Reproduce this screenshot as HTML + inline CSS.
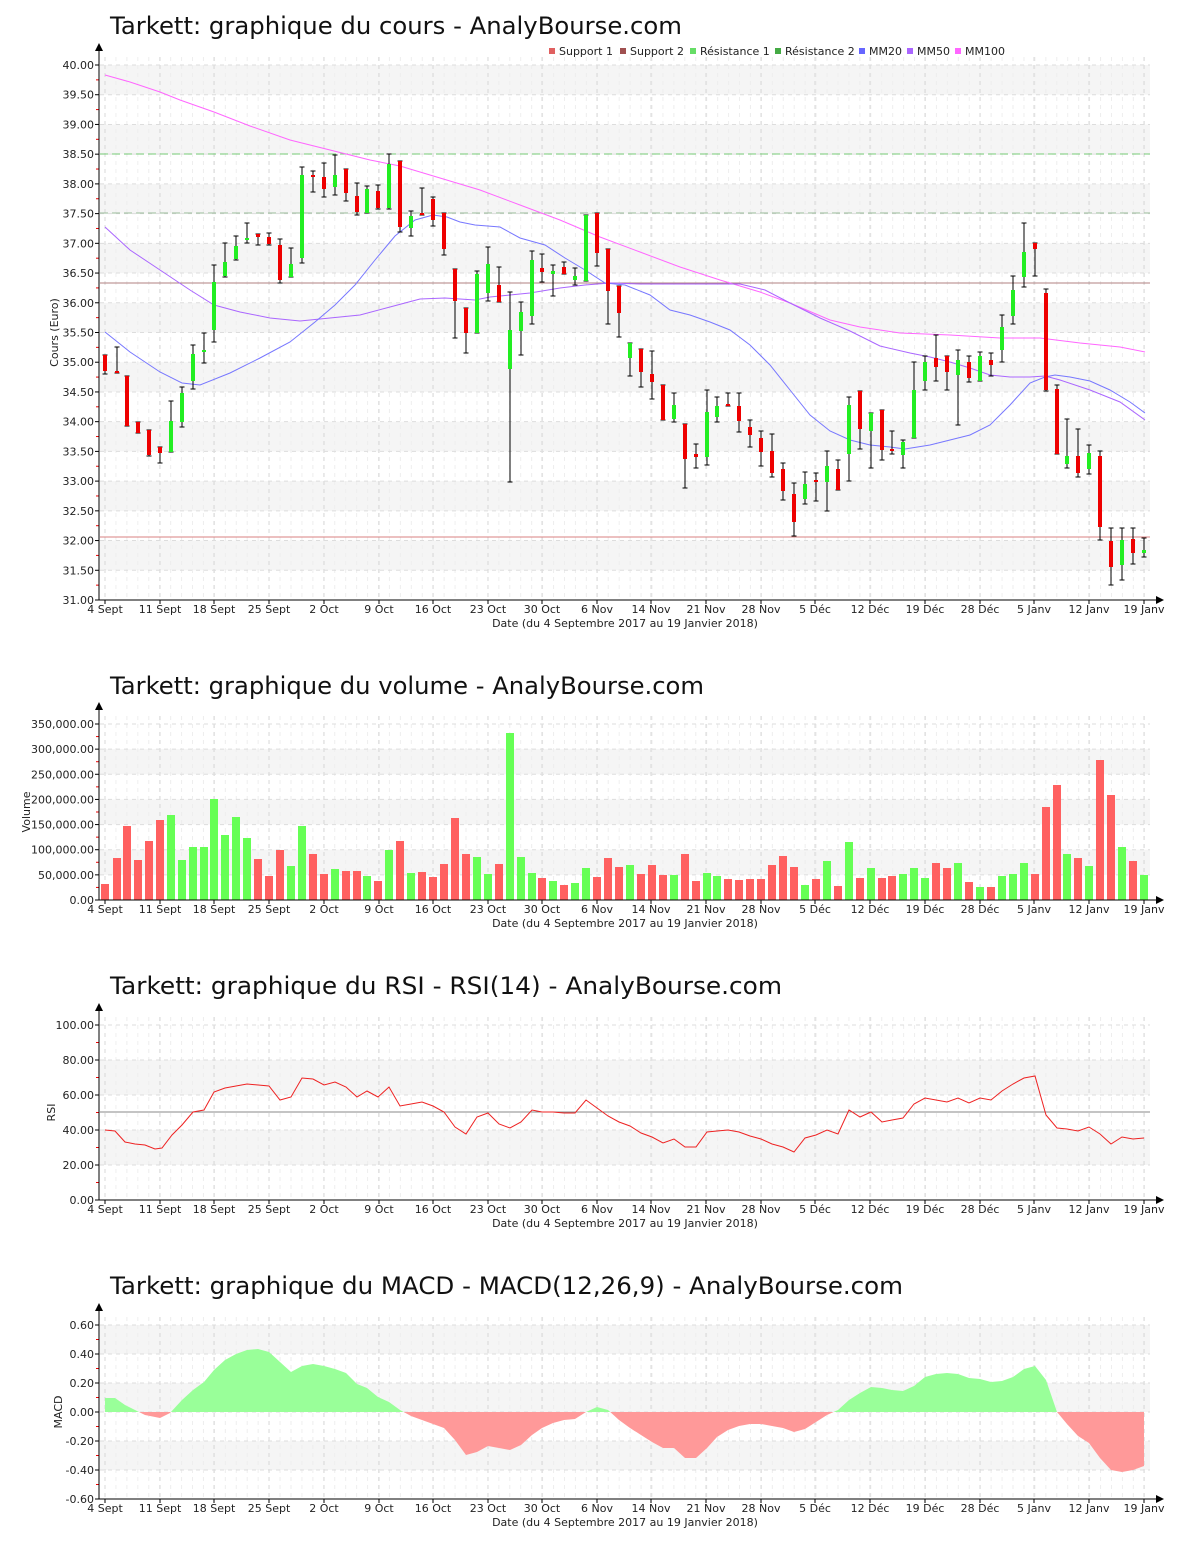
<!DOCTYPE html>
<html><head><meta charset="utf-8">
<style>
html,body{margin:0;padding:0;background:#fff;}
svg{display:block;font-family:"DejaVu Sans","Liberation Sans",sans-serif;}
</style></head>
<body>
<svg id="s" width="1200" height="1550" xmlns="http://www.w3.org/2000/svg">
<text x="110" y="34" font-size="24" fill="#111" textLength="572" lengthAdjust="spacingAndGlyphs">Tarkett: graphique du cours - AnalyBourse.com</text>
<text x="110" y="694" font-size="24" fill="#111" textLength="594" lengthAdjust="spacingAndGlyphs">Tarkett: graphique du volume - AnalyBourse.com</text>
<text x="110" y="994" font-size="24" fill="#111" textLength="672" lengthAdjust="spacingAndGlyphs">Tarkett: graphique du RSI - RSI(14) - AnalyBourse.com</text>
<text x="110" y="1294" font-size="24" fill="#111" textLength="793" lengthAdjust="spacingAndGlyphs">Tarkett: graphique du MACD - MACD(12,26,9) - AnalyBourse.com</text>
<g id="g"></g>
</svg>
<script>
var NS="http://www.w3.org/2000/svg",G=document.getElementById('g');
function el(t,a,txt){var e=document.createElementNS(NS,t);for(var k in a)e.setAttribute(k,a[k]);if(txt!==undefined)e.textContent=txt;G.appendChild(e);return e;}
var DX=[105,160,214,269,324,379,433,488,542,597,651,706,761,815,870,925,980,1034,1089,1144];
var DL=["4 Sept","11 Sept","18 Sept","25 Sept","2 Oct","9 Oct","16 Oct","23 Oct","30 Oct","6 Nov","14 Nov","21 Nov","28 Nov","5 Déc","12 Déc","19 Déc","28 Déc","5 Janv","12 Janv","19 Janv"];
function panel(o){
 var L=100,R=1150,sc=(o.bottom-o.top)/(o.vmax-o.vmin);
 var Y=function(v){return o.bottom-(v-o.vmin)*sc;};
 var n=Math.round((o.vmax-o.vmin)/o.step);
 for(var i=0;i<n;i++){ if(i%2==1){el('rect',{x:L,y:Y(o.vmin+(i+1)*o.step),width:R-L,height:o.step*sc,fill:'#f5f5f5'});} }
 // minor vertical grid
 for(var d=0;d<96;d++){var x=105+d*10.94;el('line',{x1:x,y1:o.top-8,x2:x,y2:o.bottom,stroke:'#eeeeee','stroke-dasharray':'4,4','stroke-width':1});}
 DX.forEach(function(x){el('line',{x1:x,y1:o.top-8,x2:x,y2:o.bottom,stroke:'#d8d8d8','stroke-dasharray':'4,4','stroke-width':1});});
 for(var i=0;i<=n;i++){var y=Y(o.vmin+i*o.step);
  el('line',{x1:L,y1:y,x2:R,y2:y,stroke:'#dddddd','stroke-dasharray':'4,4','stroke-width':1});
  el('line',{x1:95,y1:y,x2:99,y2:y,stroke:'#000'});
  if(i<n) el('line',{x1:96,y1:Y(o.vmin+(i+.5)*o.step),x2:99,y2:Y(o.vmin+(i+.5)*o.step),stroke:'#e00'});
  el('text',{x:94,y:y+4,'font-size':11,'text-anchor':'end',fill:'#222'},o.fmt(o.vmin+i*o.step));
 }
 o.Y=Y;return o;
}
function axes(o){
 el('line',{x1:99,y1:o.top-18,x2:99,y2:o.bottom,stroke:'#000'});
 el('path',{d:'M95,'+(o.top-14)+' L99,'+(o.top-22)+' L103,'+(o.top-14)+'Z',fill:'#000'});
 el('line',{x1:99,y1:o.bottom,x2:1158,y2:o.bottom,stroke:'#000'});
 el('path',{d:'M1156,'+(o.bottom-4)+' L1164,'+o.bottom+' L1156,'+(o.bottom+4)+'Z',fill:'#000'});
 DX.forEach(function(x,i){el('line',{x1:x,y1:o.bottom,x2:x,y2:o.bottom+4,stroke:'#000'});
  el('text',{x:x,y:o.bottom+13,'font-size':11,'text-anchor':'middle',fill:'#222'},DL[i]);});
 el('text',{x:625,y:o.bottom+27,'font-size':11,'text-anchor':'middle',fill:'#222'},'Date (du 4 Septembre 2017 au 19 Janvier 2018)');
 el('text',{x:0,y:0,'font-size':11,'text-anchor':'middle',fill:'#222',transform:'translate('+o.ax+','+((o.top+o.bottom)/2)+') rotate(-90)'},o.title);
}
function poly(pts,col,w){el('polyline',{points:pts.map(function(p){return p.join(',')}).join(' '),fill:'none',stroke:col,'stroke-width':w||1});}

// ===== PRICE =====
var P=panel({top:65,bottom:600,vmin:31,vmax:40,step:0.5,fmt:function(v){return v.toFixed(2)},ax:58,title:'Cours (Euro)'});
el('line',{x1:100,y1:154,x2:1150,y2:154,stroke:'#77cc77','stroke-dasharray':'8,4'});
el('line',{x1:100,y1:213,x2:1150,y2:213,stroke:'#99bb99','stroke-dasharray':'8,4'});
el('line',{x1:100,y1:283,x2:1150,y2:283,stroke:'#b08080'});
el('line',{x1:100,y1:537,x2:1150,y2:537,stroke:'#d88080'});
poly([[105,75],[130,82],[160,92],[180,100],[214,112],[250,126],[290,140],[330,150],[370,160],[400,166],[440,178],[480,190],[520,205],[560,220],[600,237],[640,252],[680,267],[720,280],[760,292],[790,303],[830,320],[860,327],[900,333],[950,335],[1000,338],[1040,338],[1080,343],[1120,347],[1145,352]],'#ff66ff');
poly([[105,227],[130,250],[160,270],[190,290],[214,305],[240,312],[270,318],[300,321],[330,318],[360,315],[390,307],[420,299],[445,298],[460,299],[475,300],[490,297],[510,295],[530,293],[560,288],[585,285],[610,283],[640,284],[690,284],[740,284],[765,290],[790,303],[820,318],[850,331],[880,346],[910,353],[930,357],[950,362],[970,368],[990,375],[1010,377],[1030,377],[1045,376],[1060,380],[1090,390],[1120,402],[1145,420]],'#aa66ff');
poly([[105,332],[130,352],[160,372],[182,383],[200,385],[230,373],[260,358],[290,342],[315,322],[335,305],[355,285],[375,260],[395,236],[415,220],[433,215],[447,217],[460,222],[475,225],[500,227],[520,238],[545,245],[565,258],[585,270],[605,283],[625,285],[650,295],[670,310],[690,315],[710,322],[730,330],[750,345],[770,365],[790,390],[810,415],[830,431],[850,440],[870,445],[890,447],[905,449],[930,445],[950,440],[970,435],[990,425],[1010,405],[1030,383],[1045,377],[1055,375],[1070,377],[1090,381],[1110,390],[1130,402],[1145,413]],'#7777ff');
// x, bodyTop, bodyBot, high, low, color(g/r)
var C=[[105,355,371,355,374,'r'],[117,371,373,347,373,'r'],[127,376,426,376,426,'r'],[138,422,433,422,433,'r'],[149,430,455,430,456,'r'],[160,447,453,447,463,'r'],[171,421,452,401,452,'g'],[182,393,422,387,427,'g'],[193,354,381,345,389,'g'],[204,350,352,333,363,'g'],[214,282,330,265,342,'g'],[225,262,276,243,277,'g'],[236,246,259,236,260,'g'],[247,238,240,223,243,'g'],[258,234,237,234,245,'r'],[269,237,244,233,245,'r'],[280,245,280,239,283,'r'],[291,264,277,248,277,'g'],[302,175,258,167,263,'g'],[313,175,177,171,192,'r'],[324,177,189,163,197,'r'],[335,175,187,155,195,'g'],[346,169,193,169,201,'r'],[357,196,212,183,215,'r'],[367,189,213,186,213,'g'],[378,191,208,185,209,'r'],[389,164,208,154,209,'g'],[400,161,227,161,232,'r'],[411,216,228,211,236,'g'],[422,213,215,188,215,'r'],[433,199,220,197,226,'r'],[444,213,249,213,255,'r'],
[455,269,301,269,338,'r'],[466,308,333,308,353,'r'],[477,274,333,271,333,'g'],[488,264,293,247,301,'g'],[499,285,302,267,302,'r'],[510,330,369,292,482,'g'],[521,312,331,302,355,'g'],[532,260,316,251,324,'g'],[542,268,272,254,282,'r'],[553,271,274,265,296,'g'],[564,267,274,262,274,'r'],[575,276,280,268,285,'g'],[586,215,281,215,281,'g'],[597,213,253,213,266,'r'],[608,249,291,249,324,'r'],[619,286,313,286,337,'r'],[630,343,358,343,376,'g'],[641,349,372,349,387,'r'],[652,374,382,351,399,'r'],[663,385,420,385,420,'r'],[674,405,419,393,422,'g'],[685,424,459,424,488,'r'],[696,454,457,444,468,'r'],[707,412,457,390,465,'g'],[717,406,417,397,422,'g'],[728,404,406,393,406,'r'],[739,406,421,393,432,'r'],[750,427,435,420,447,'r'],[761,438,452,431,466,'r'],[772,451,473,434,477,'r'],[783,469,491,463,500,'r'],[794,494,522,483,536,'r'],
[805,484,499,472,504,'g'],[816,480,482,473,501,'r'],[827,466,482,451,511,'g'],[838,469,490,460,490,'r'],[849,405,454,397,481,'g'],[860,391,429,391,449,'r'],[871,413,431,413,468,'g'],[882,410,450,410,460,'r'],[892,449,451,431,454,'r'],[903,442,455,440,468,'g'],[914,390,438,362,438,'g'],[925,362,381,356,390,'g'],[936,358,367,335,381,'r'],[947,356,372,356,390,'r'],[958,360,375,350,425,'g'],[969,362,378,356,382,'r'],[980,356,381,352,381,'g'],[991,360,365,353,376,'r'],[1002,327,350,315,362,'g'],[1013,290,316,276,324,'g'],[1024,252,277,223,287,'g'],[1035,243,249,243,276,'r'],[1046,293,390,289,391,'r'],[1057,389,454,385,454,'r'],[1067,456,464,419,468,'g'],[1078,456,473,429,477,'r'],[1089,453,469,445,474,'g'],[1100,456,527,451,540,'r'],[1111,541,567,528,585,'r'],[1122,540,565,528,580,'g'],[1133,539,553,528,564,'r'],[1144,550,553,538,557,'g']];
C.forEach(function(c){var x=c[0];
 el('line',{x1:x,y1:c[3],x2:x,y2:c[4],stroke:'#000'});
 el('line',{x1:x-2.5,y1:c[3],x2:x+2.5,y2:c[3],stroke:'#000'});
 el('line',{x1:x-2.5,y1:c[4],x2:x+2.5,y2:c[4],stroke:'#000'});
 el('rect',{x:x-2,y:c[1],width:4,height:Math.max(2,c[2]-c[1]),fill:c[5]=='g'?'#22ee22':'#ee0000'});
});
axes(P);
var LG=[[549,'#e06060','Support 1'],[620,'#a05050','Support 2'],[690,'#66dd66','Résistance 1'],[775,'#44aa44','Résistance 2'],[859,'#6666ff','MM20'],[907,'#aa66ff','MM50'],[955,'#ff66ff','MM100']];
LG.forEach(function(l){el('rect',{x:l[0],y:48,width:6,height:6,fill:l[1]});el('text',{x:l[0]+10,y:55,'font-size':11,fill:'#222'},l[2]);});

// ===== VOLUME =====
var V=panel({top:724,bottom:900,vmin:0,vmax:350000,step:50000,fmt:function(v){return v.toLocaleString('en-US')+'.00'},ax:30,title:'Volume'});
var VT=[884,858,826,860,841,820,815,860,847,847,799,835,817,838,859,876,850,866,826,854,874,869,871,871,876,881,850,841,873,872,877,864,818,854,857,874,864,733,857,873,878,881,885,883,868,877,858,867,865,874,865,875,875,854,881,873,876,879,880,879,879,865,856,867,885,879,861,886,842,878,868,878,876,874,868,878,863,868,863,882,887,887,876,874,863,874,807,785,854,858,866,760,795,847,861,875];
VT.forEach(function(t,i){var c=C[i];el('rect',{x:c[0]-4,y:t,width:8,height:900-t,fill:c[5]=='g'?'#66ff55':'#ff6060'});});
axes(V);

// ===== RSI =====
var R=panel({top:1025,bottom:1200,vmin:0,vmax:100,step:20,fmt:function(v){return v.toFixed(2)},ax:55,title:'RSI'});
el('line',{x1:100,y1:1112,x2:1150,y2:1112,stroke:'#888'});
poly([[105,1130],[115,1131],[125,1142],[135,1144],[145,1145],[155,1149],[162,1148],[172,1135],[182,1125],[193,1112],[204,1110],[214,1092],[225,1088],[247,1084],[269,1086],[280,1100],[291,1097],[302,1078],[313,1079],[324,1085],[335,1082],[346,1087],[357,1097],[367,1091],[378,1097],[389,1087],[400,1106],[411,1104],[422,1102],[433,1106],[444,1112],[455,1127],[466,1134],[477,1117],[488,1113],[499,1124],[510,1128],[521,1122],[532,1110],[542,1112],[553,1112],[564,1113],[575,1113],[586,1100],[597,1108],[608,1116],[619,1122],[630,1126],[641,1133],[652,1137],[663,1143],[674,1139],[685,1147],[696,1147],[707,1132],[717,1131],[728,1130],[739,1132],[750,1136],[761,1139],[772,1144],[783,1147],[794,1152],[805,1138],[816,1135],[827,1130],[838,1134],[849,1110],[860,1117],[871,1112],[882,1122],[892,1120],[903,1118],[914,1104],[925,1098],[936,1100],[947,1102],[958,1098],[969,1103],[980,1098],[991,1100],[1002,1091],[1013,1084],[1024,1078],[1035,1076],[1046,1115],[1057,1128],[1067,1129],[1078,1131],[1089,1127],[1100,1134],[1111,1144],[1122,1137],[1133,1139],[1144,1138]],'#ee2222');
axes(R);

// ===== MACD =====
var M=panel({top:1325,bottom:1499,vmin:-0.6,vmax:0.6,step:0.2,fmt:function(v){return (Math.abs(v)<1e-9?0:v).toFixed(2)},ax:62,title:'MACD'});
var MP=[[105,1398],[115,1398],[125,1405],[135,1410],[145,1415],[160,1418],[170,1413],[182,1400],[193,1390],[204,1382],[214,1370],[225,1360],[236,1354],[247,1350],[258,1349],[269,1352],[280,1362],[291,1372],[302,1366],[313,1364],[324,1366],[335,1369],[346,1373],[357,1384],[367,1388],[378,1397],[389,1402],[400,1410],[411,1416],[422,1420],[433,1424],[444,1428],[455,1440],[466,1455],[477,1452],[488,1446],[499,1448],[510,1450],[521,1445],[532,1435],[542,1428],[553,1423],[564,1420],[575,1419],[586,1412],[597,1407],[608,1410],[619,1420],[630,1428],[641,1435],[652,1442],[663,1448],[674,1448],[685,1458],[696,1458],[707,1448],[717,1437],[728,1430],[739,1426],[750,1424],[761,1424],[772,1426],[783,1428],[794,1432],[805,1429],[816,1422],[827,1415],[838,1410],[849,1400],[860,1393],[871,1387],[882,1388],[892,1390],[903,1391],[914,1386],[925,1377],[936,1374],[947,1373],[958,1374],[969,1378],[980,1379],[991,1382],[1002,1381],[1013,1377],[1024,1369],[1035,1366],[1046,1380],[1057,1412],[1067,1424],[1078,1436],[1089,1443],[1100,1458],[1111,1470],[1122,1472],[1133,1470],[1144,1466]];
var z=1412,pts=MP.map(function(p){return p.join(',')}).join(' ');
el('clipPath',{id:'ca'});
var defs=document.createElementNS(NS,'defs');
defs.innerHTML='<clipPath id="up"><rect x="100" y="1300" width="1060" height="112"/></clipPath><clipPath id="dn"><rect x="100" y="1412" width="1060" height="100"/></clipPath>';
G.appendChild(defs);
el('polygon',{points:'105,'+z+' '+pts+' 1144,'+z,fill:'#99ff99','clip-path':'url(#up)'});
el('polygon',{points:'105,'+z+' '+pts+' 1144,'+z,fill:'#ff9999','clip-path':'url(#dn)'});
axes(M);
</script>
</body></html>
